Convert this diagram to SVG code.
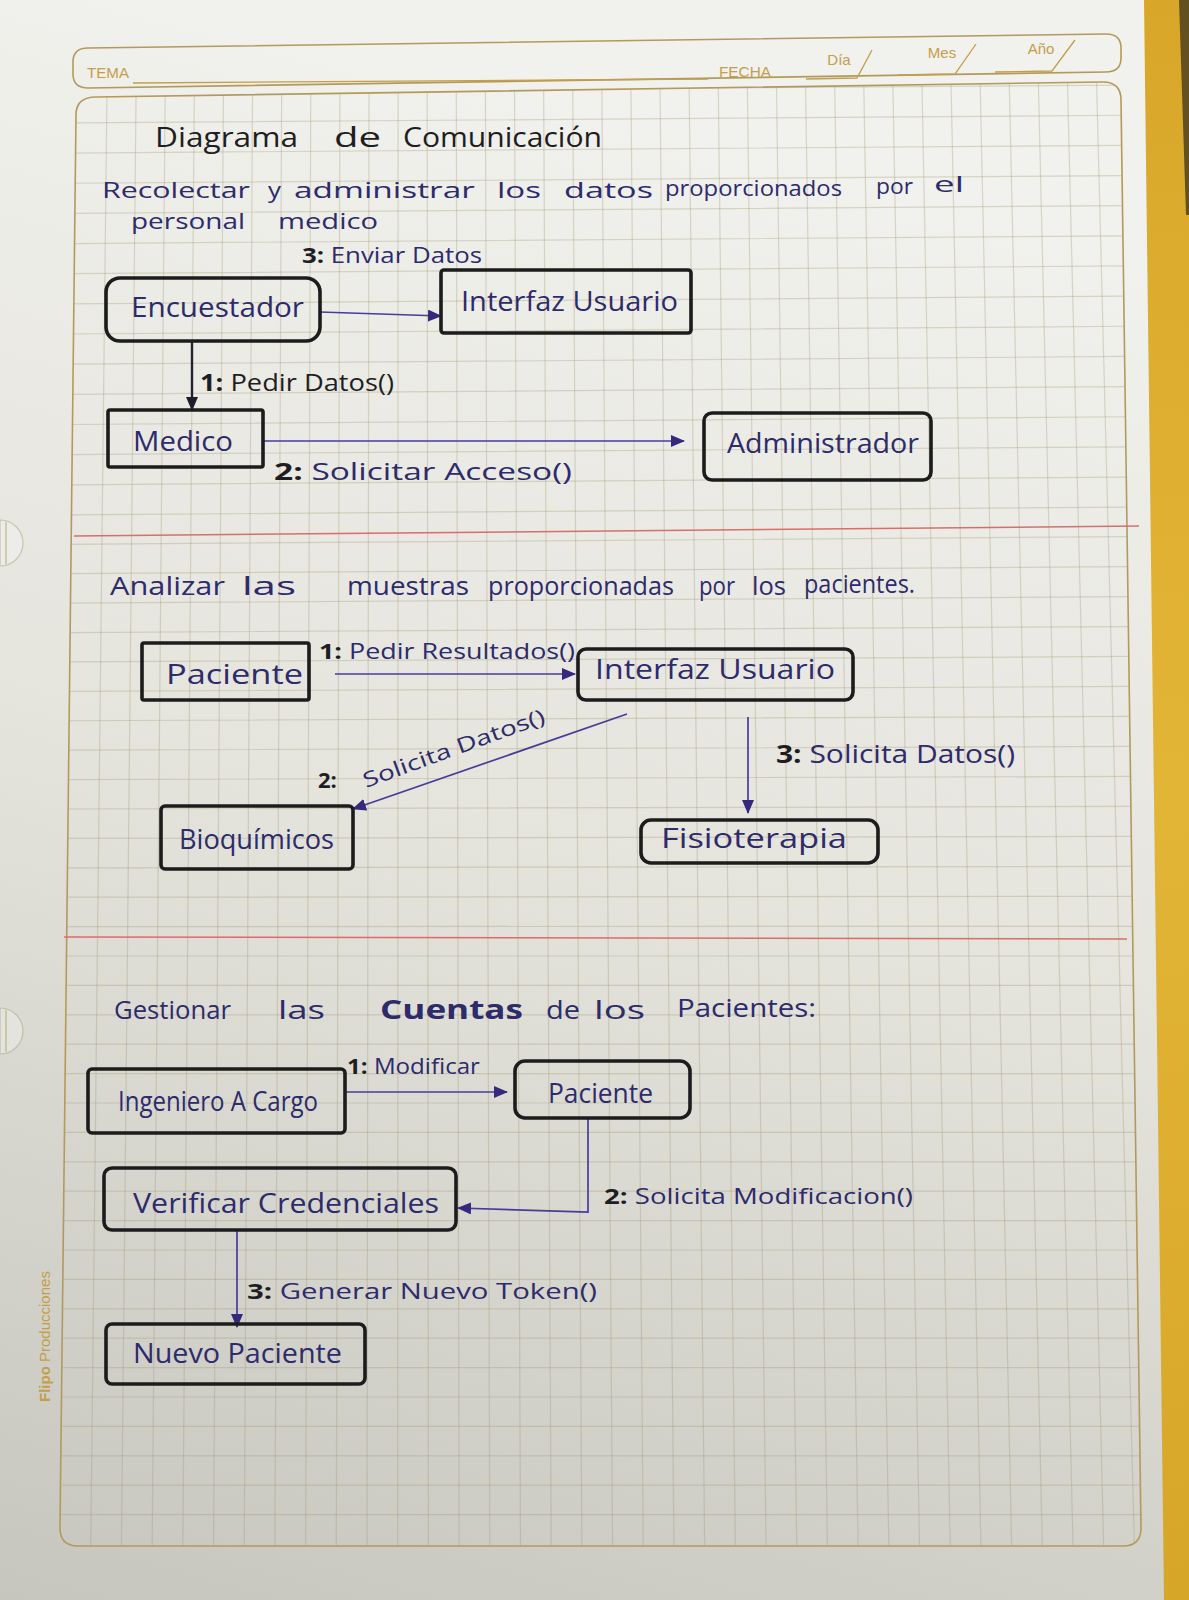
<svg xmlns="http://www.w3.org/2000/svg" width="1189" height="1600" viewBox="0 0 1189 1600">
  <defs>
    <linearGradient id="paperShade" x1="0.2" y1="0" x2="0" y2="1">
      <stop offset="0" stop-color="#f1f1ed"/>
      <stop offset="0.45" stop-color="#e5e4dd"/>
      <stop offset="1" stop-color="#c6c5be"/>
    </linearGradient>
    <linearGradient id="folderShade" x1="0" y1="0" x2="0" y2="1">
      <stop offset="0" stop-color="#d8a72a"/>
      <stop offset="0.5" stop-color="#e3b536"/>
      <stop offset="1" stop-color="#d6a629"/>
    </linearGradient>
    <clipPath id="sheetClip">
      <path d="M96,97 L1103,82 Q1121,82 1121,100 L1141,1528 Q1141,1546 1123,1546 L78,1546 Q60,1546 60,1528 L76,115 Q76,97 96,97 Z"/>
    </clipPath>
    <marker id="arrowBlue" viewBox="0 0 14 12" refX="13" refY="6" markerWidth="14" markerHeight="12" markerUnits="userSpaceOnUse" orient="auto">
      <path d="M0,0 L14,6 L0,12 Z" fill="#35297e"/>
    </marker>
    <marker id="arrowDark" viewBox="0 0 14 12" refX="13" refY="6" markerWidth="14" markerHeight="12" markerUnits="userSpaceOnUse" orient="auto">
      <path d="M0,0 L14,6 L0,12 Z" fill="#1d1d28"/>
    </marker>
  </defs>
  <style>
    .grid { fill: none; stroke: #a39a74; stroke-opacity: 0.34; stroke-width: 1.2; }
    .frame { fill: none; stroke: #b39a5c; stroke-width: 1.6; }
    .print { fill: #c49e4a; font-family: "Liberation Sans", Arial, sans-serif; font-size: 15px; }
    .printline { fill: none; stroke: #c49e4a; stroke-width: 1.3; }
    .redline { stroke: #d66f6b; stroke-width: 1.5; }
    .node rect { fill: none; stroke: #1c1c1c; stroke-width: 3.6; stroke-linejoin: round; }
    .ink { fill: #2d2b6b; font-family: "Open Sans", "Liberation Sans", sans-serif; }
    .black { fill: #1e1e22; font-family: "Open Sans", "Liberation Sans", sans-serif; }
    .num { fill: #1e1e22; font-weight: bold; }
    .lbl { font-size: 27px; }
    .msg { font-size: 21px; }
    .head { font-size: 26px; }
    .tight { font-size: 22px; }
    .wire { fill: none; stroke: #483c99; stroke-width: 1.7; marker-end: url(#arrowBlue); }
    .wireDark { fill: none; stroke: #232330; stroke-width: 2.4; marker-end: url(#arrowDark); }
  </style>

  <!-- paper, folder edge and binding holes -->
  <rect x="0" y="0" width="1189" height="1600" fill="url(#paperShade)"/>
  <polygon points="1144,0 1189,0 1189,1600 1164,1600" fill="url(#folderShade)"/>
  <polygon points="1179,0 1189,0 1189,215 1186,215" fill="#3c331f" opacity="0.75"/>
  <path d="M0,520 A23,23 0 0 1 0,566 Z" fill="#ecece8" stroke="#c9c4ae" stroke-width="1.2"/>
  <line x1="6" y1="522" x2="6" y2="564" stroke="#c2b586" stroke-width="1.2"/>
  <path d="M0,1008 A23,23 0 0 1 0,1054 Z" fill="#e4e4df" stroke="#c4bfa9" stroke-width="1.2"/>
  <line x1="6" y1="1010" x2="6" y2="1052" stroke="#bfb284" stroke-width="1.2"/>

  <!-- printed header -->
  <path class="frame" d="M88,48 L1106,34 Q1121,34 1121,48 L1121,58 Q1121,72 1106,72 L88,88 Q73,88 73,74 L73,62 Q73,48 88,48 Z"/>
  <text class="print" x="87" y="78" textLength="42" lengthAdjust="spacingAndGlyphs">TEMA</text>
  <line class="printline" x1="133" y1="83" x2="708" y2="79"/>
  <text class="print" x="719" y="77" textLength="52" lengthAdjust="spacingAndGlyphs">FECHA</text>
  <text class="print" x="839" y="65" text-anchor="middle">Día</text>
  <path class="printline" d="M806,79 L857,78 L872,50"/>
  <text class="print" x="942" y="58" text-anchor="middle">Mes</text>
  <path class="printline" d="M898,75 L955,74 L976,44"/>
  <text class="print" x="1041" y="54" text-anchor="middle">Año</text>
  <path class="printline" d="M995,72 L1052,71 L1075,40"/>
  <text class="print" transform="translate(50,1402) rotate(-90)" font-size="12px"><tspan font-weight="bold">Flipo</tspan> Producciones</text>

  <!-- squared sheet -->
  <g clip-path="url(#sheetClip)">
    <path class="grid" d="M107.1,80 L90.7,1550 M136.2,80 L121.4,1550 M165.3,80 L152.1,1550 M194.4,80 L182.8,1550 M223.5,80 L213.5,1550 M252.6,80 L244.2,1550 M281.7,80 L274.9,1550 M310.8,80 L305.6,1550 M339.9,80 L336.3,1550 M369,80 L367,1550 M398.1,80 L397.7,1550 M427.2,80 L428.4,1550 M456.3,80 L459.1,1550 M485.4,80 L489.8,1550 M514.5,80 L520.5,1550 M543.6,80 L551.2,1550 M572.7,80 L581.9,1550 M601.8,80 L612.6,1550 M630.9,80 L643.3,1550 M660,80 L674,1550 M689.1,80 L704.7,1550 M718.2,80 L735.4,1550 M747.3,80 L766.1,1550 M776.4,80 L796.8,1550 M805.5,80 L827.5,1550 M834.6,80 L858.2,1550 M863.7,80 L888.9,1550 M892.8,80 L919.6,1550 M921.9,80 L950.3,1550 M951,80 L981,1550 M980.1,80 L1011.7,1550 M1009.2,80 L1042.4,1550 M1038.3,80 L1073.1,1550 M1067.4,80 L1103.8,1550 M1096.5,80 L1134.5,1550"/>
    <path class="grid" d="M55,92.9 L1145,84.9 M55,123.1 L1145,115.1 M55,153.2 L1145,145.2 M55,183.4 L1145,175.4 M55,213.5 L1145,205.5 M55,243.7 L1145,235.7 M55,273.8 L1145,265.8 M55,304 L1145,296 M55,334.1 L1145,326.1 M55,364.3 L1145,356.3 M55,394.4 L1145,386.4 M55,424.6 L1145,416.6 M55,454.7 L1145,446.7 M55,484.9 L1145,476.9 M55,515 L1145,507 M55,544.4 L1145,536.5 M55,573.8 L1145,566.5 M55,603.2 L1145,596.5 M55,632.6 L1145,626.5 M55,662 L1145,656.4 M55,691.4 L1145,686.4 M55,720.8 L1145,716.4 M55,750.2 L1145,746.4 M55,779.6 L1145,776.4 M55,809 L1145,806.4 M55,838.4 L1145,836.4 M55,867.8 L1145,866.4 M55,897.2 L1145,896.3 M55,926.6 L1145,926.3 M55,956 L1145,956 M55,985.4 L1145,985.4 M55,1014.8 L1145,1014.8 M55,1044.2 L1145,1044.2 M55,1073.6 L1145,1073.6 M55,1103 L1145,1103 M55,1132.4 L1145,1132.4 M55,1161.8 L1145,1161.8 M55,1191.2 L1145,1191.2 M55,1220.6 L1145,1220.6 M55,1250 L1145,1250 M55,1279.4 L1145,1279.4 M55,1308.8 L1145,1308.8 M55,1338.2 L1145,1338.2 M55,1367.6 L1145,1367.6 M55,1397 L1145,1397 M55,1426.4 L1145,1426.4 M55,1455.8 L1145,1455.8 M55,1485.2 L1145,1485.2 M55,1514.6 L1145,1514.6"/>
  </g>
  <path class="frame" d="M96,97 L1103,82 Q1121,82 1121,100 L1141,1528 Q1141,1546 1123,1546 L78,1546 Q60,1546 60,1528 L76,115 Q76,97 96,97 Z"/>
  <line class="redline" x1="74" y1="536" x2="1139" y2="526"/>
  <line class="redline" x1="64" y1="937" x2="1127" y2="939"/>

  <!-- headings -->
  <g class="black" font-size="28px">
    <text x="155" y="147" textLength="143" lengthAdjust="spacingAndGlyphs">Diagrama</text>
    <text x="334" y="147" textLength="47" lengthAdjust="spacingAndGlyphs">de</text>
    <text x="403" y="147" textLength="199" lengthAdjust="spacingAndGlyphs">Comunicación</text>
  </g>
  <g class="ink head">
    <text class="tight" x="102" y="198" textLength="148" lengthAdjust="spacingAndGlyphs">Recolectar</text>
    <text class="tight" x="268" y="198" textLength="13" lengthAdjust="spacingAndGlyphs">y</text>
    <text class="tight" x="294" y="198" textLength="181" lengthAdjust="spacingAndGlyphs">administrar</text>
    <text class="tight" x="497" y="198" textLength="44" lengthAdjust="spacingAndGlyphs">los</text>
    <text class="tight" x="564" y="198" textLength="89" lengthAdjust="spacingAndGlyphs">datos</text>
    <text class="tight" x="665" y="196" textLength="177" lengthAdjust="spacingAndGlyphs">proporcionados</text>
    <text class="tight" x="876" y="194" textLength="37" lengthAdjust="spacingAndGlyphs">por</text>
    <text class="tight" x="934" y="192" textLength="30" lengthAdjust="spacingAndGlyphs">el</text>
    <text class="tight" x="131" y="229" textLength="114" lengthAdjust="spacingAndGlyphs">personal</text>
    <text class="tight" x="278" y="229" textLength="100" lengthAdjust="spacingAndGlyphs">medico</text>

    <text x="110" y="595" textLength="115" lengthAdjust="spacingAndGlyphs">Analizar</text>
    <text x="242" y="595" textLength="54" lengthAdjust="spacingAndGlyphs">las</text>
    <text x="347" y="595" textLength="122" lengthAdjust="spacingAndGlyphs">muestras</text>
    <text x="488" y="595" textLength="186" lengthAdjust="spacingAndGlyphs">proporcionadas</text>
    <text x="699" y="595" textLength="36" lengthAdjust="spacingAndGlyphs">por</text>
    <text x="752" y="595" textLength="34" lengthAdjust="spacingAndGlyphs">los</text>
    <text x="804" y="593" textLength="111" lengthAdjust="spacingAndGlyphs">pacientes.</text>

    <text x="114" y="1019" textLength="117" lengthAdjust="spacingAndGlyphs">Gestionar</text>
    <text x="278" y="1019" textLength="47" lengthAdjust="spacingAndGlyphs">las</text>
    <text x="380" y="1019" textLength="143" lengthAdjust="spacingAndGlyphs" font-weight="bold">Cuentas</text>
    <text x="546" y="1019" textLength="34" lengthAdjust="spacingAndGlyphs">de</text>
    <text x="594" y="1019" textLength="51" lengthAdjust="spacingAndGlyphs">los</text>
    <text x="677" y="1017" textLength="139" lengthAdjust="spacingAndGlyphs">Pacientes:</text>
  </g>

  <!-- connectors -->
  <g id="connectors">
    <path class="wire" d="M320,312 L441,316"/>
    <path class="wireDark" d="M192,341 L192,410"/>
    <path class="wire" d="M263,441 L684,441"/>
    <path class="wire" d="M335,674 L575,674"/>
    <path class="wire" d="M627,714 L353,809"/>
    <path class="wire" d="M748,717 L748,813"/>
    <path class="wire" d="M345,1092 L507,1092"/>
    <path class="wire" d="M588,1118 L588,1212 L458,1208"/>
    <path class="wire" d="M237,1230 L237,1327"/>

    <text class="ink msg" x="302" y="263" textLength="180" lengthAdjust="spacingAndGlyphs"><tspan class="num">3:</tspan> Enviar Datos</text>
    <text class="black" x="200" y="391" font-size="24px" textLength="194" lengthAdjust="spacingAndGlyphs"><tspan class="num">1:</tspan> Pedir Datos()</text>
    <text class="ink" x="274" y="480" font-size="24px" textLength="298" lengthAdjust="spacingAndGlyphs"><tspan class="num">2:</tspan> Solicitar Acceso()</text>
    <text class="ink msg" x="319" y="659" textLength="256" lengthAdjust="spacingAndGlyphs"><tspan class="num">1:</tspan> Pedir Resultados()</text>
    <text class="black num" x="318" y="788" font-size="22px">2:</text>
    <text class="ink msg" transform="translate(366,788) rotate(-20)" textLength="192" lengthAdjust="spacingAndGlyphs">Solicita Datos()</text>
    <text class="ink" x="776" y="763" font-size="25px" textLength="239" lengthAdjust="spacingAndGlyphs"><tspan class="num">3:</tspan> Solicita Datos()</text>
    <text class="ink msg" x="347" y="1074" textLength="133" lengthAdjust="spacingAndGlyphs"><tspan class="num">1:</tspan> Modificar</text>
    <text class="ink msg" x="604" y="1204" textLength="309" lengthAdjust="spacingAndGlyphs"><tspan class="num">2:</tspan> Solicita Modificacion()</text>
    <text class="ink" x="247" y="1299" font-size="22px" textLength="350" lengthAdjust="spacingAndGlyphs"><tspan class="num">3:</tspan> Generar Nuevo Token()</text>
  </g>

  <!-- objects: recolectar y administrar datos -->
  <g id="encuestador" class="node">
    <rect x="106" y="278" width="214" height="63" rx="14"/>
    <text class="ink lbl" x="131" y="317" textLength="173" lengthAdjust="spacingAndGlyphs">Encuestador</text>
  </g>
  <g id="interfaz-usuario-1" class="node">
    <rect x="441" y="270" width="250" height="63" rx="3"/>
    <text class="ink lbl" x="461" y="311" textLength="217" lengthAdjust="spacingAndGlyphs">Interfaz Usuario</text>
  </g>
  <g id="medico" class="node">
    <rect x="108" y="410" width="155" height="57" rx="2"/>
    <text class="ink lbl" x="133" y="451" textLength="100" lengthAdjust="spacingAndGlyphs">Medico</text>
  </g>
  <g id="administrador" class="node">
    <rect x="704" y="413" width="227" height="67" rx="8"/>
    <text class="ink lbl" x="727" y="453" textLength="192" lengthAdjust="spacingAndGlyphs">Administrador</text>
  </g>

  <!-- objects: analizar muestras -->
  <g id="paciente-1" class="node">
    <rect x="142" y="643" width="167" height="57" rx="2"/>
    <text class="ink lbl" x="166" y="684" textLength="137" lengthAdjust="spacingAndGlyphs">Paciente</text>
  </g>
  <g id="interfaz-usuario-2" class="node">
    <rect x="578" y="649" width="275" height="51" rx="8"/>
    <text class="ink lbl" x="595" y="679" textLength="240" lengthAdjust="spacingAndGlyphs">Interfaz Usuario</text>
  </g>
  <g id="bioquimicos" class="node">
    <rect x="161" y="806" width="192" height="63" rx="4"/>
    <text class="ink lbl" x="179" y="849" textLength="155" lengthAdjust="spacingAndGlyphs">Bioquímicos</text>
  </g>
  <g id="fisioterapia" class="node">
    <rect x="641" y="820" width="237" height="43" rx="10"/>
    <text class="ink lbl" x="661" y="848" textLength="186" lengthAdjust="spacingAndGlyphs">Fisioterapia</text>
  </g>

  <!-- objects: gestionar cuentas -->
  <g id="ingeniero-a-cargo" class="node">
    <rect x="88" y="1069" width="257" height="64" rx="4"/>
    <text class="ink lbl" x="118" y="1111" textLength="200" lengthAdjust="spacingAndGlyphs">Ingeniero A Cargo</text>
  </g>
  <g id="paciente-2" class="node">
    <rect x="515" y="1061" width="175" height="57" rx="10"/>
    <text class="ink lbl" x="548" y="1103" textLength="105" lengthAdjust="spacingAndGlyphs">Paciente</text>
  </g>
  <g id="verificar-credenciales" class="node">
    <rect x="104" y="1168" width="352" height="62" rx="8"/>
    <text class="ink lbl" x="133" y="1213" textLength="306" lengthAdjust="spacingAndGlyphs">Verificar  Credenciales</text>
  </g>
  <g id="nuevo-paciente" class="node">
    <rect x="106" y="1324" width="259" height="60" rx="6"/>
    <text class="ink lbl" x="133" y="1363" textLength="209" lengthAdjust="spacingAndGlyphs">Nuevo  Paciente</text>
  </g>
</svg>
